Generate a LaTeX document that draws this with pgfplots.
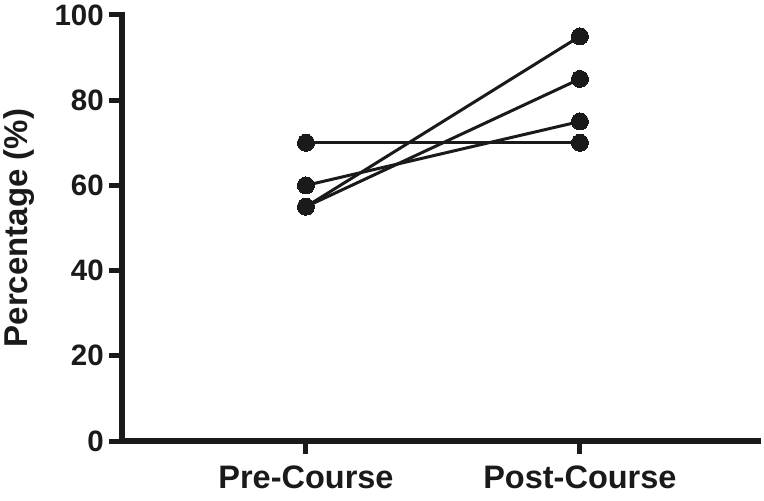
\documentclass[border=0pt]{standalone}
\usepackage{fontspec}
\setmainfont{Liberation Sans}
\usepackage{pgfplots}
\pgfplotsset{compat=1.18}
\definecolor{ink}{HTML}{1A1A1A}
\pgfplotsset{pp/.style={ink, line width=3pt, mark=*, mark size=8.5pt, mark options={fill=ink, draw=ink, line width=0pt}}}
\begin{document}
\begin{tikzpicture}
\begin{axis}[
  scale only axis,
  width=636pt, height=426pt,
  xmin=0.3285, xmax=2.65,
  ymin=0, ymax=100,
  axis x line=bottom, axis y line=left,
  axis line style={-, line width=5.5pt, ink, line cap=rect},
  xtick={1,2}, xticklabels={Pre-Course,Post-Course},
  ytick={0,20,40,60,80,100},
  tick align=outside,
  major tick length=13pt,
  every tick/.style={line width=5pt, ink},
  /pgf/number format/assume math mode=true,
  yticklabel style={font=\fontsize{29.5}{29.5}\selectfont\bfseries, text=ink, inner sep=0pt, xshift=-5pt},
  xticklabel style={font=\fontsize{32.5}{32.5}\selectfont\bfseries, text=ink, inner sep=0pt, yshift=-12pt},
  ylabel={Percentage (\%)},
  ylabel style={font=\fontsize{33}{33}\selectfont\bfseries, text=ink, at={(axis description cs:-0.1368,0.5)}, anchor=south, inner sep=0pt},
  clip=false,
]
\addplot[pp] coordinates {(1,70) (2,70)};
\addplot[pp] coordinates {(1,60) (2,75)};
\addplot[pp] coordinates {(1,55) (2,85)};
\addplot[pp] coordinates {(1,55) (2,95)};
\coordinate (O) at (rel axis cs:0,0);
\end{axis}
\pgfresetboundingbox
\path (O) ++(-122pt,-60pt) rectangle ++(764pt,501pt);
\end{tikzpicture}
\end{document}
